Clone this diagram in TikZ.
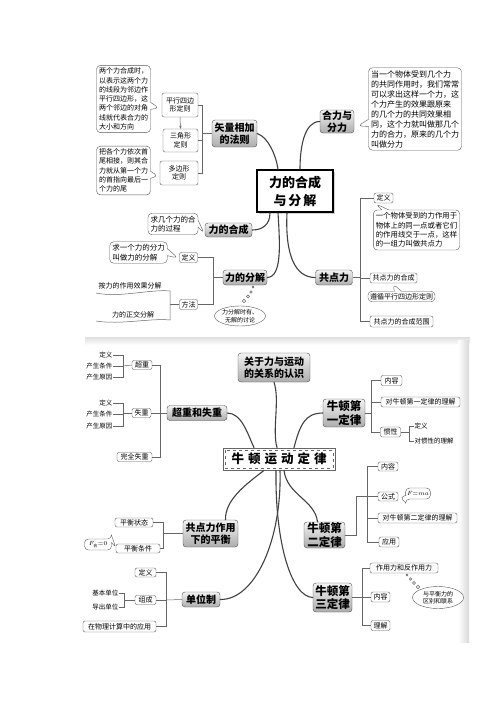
\documentclass[tikz,border=0pt]{standalone}
\usepackage{fontspec}
\setmainfont{Noto Sans CJK SC}
\usetikzlibrary{shapes.callouts,shapes.geometric,shadows,arrows.meta}
\begin{document}
\begin{tikzpicture}[x=1pt,y=-1pt,
  conn/.style={line width=1.1pt, draw=black!75, line cap=round},
  brk/.style={line width=0.5pt, draw=black!60},
  mainbox/.style={draw=black!70, rounded corners=3pt, top color=gray!10, bottom color=gray!65, inner sep=0pt, align=center, font=\fontsize{10}{11.5}\selectfont\bfseries},
  lawbox/.style={mainbox, font=\fontsize{11.5}{13.5}\selectfont\bfseries},
  leaf/.style={draw=black!65, rounded corners=2pt, fill=white, inner sep=0pt, align=center, font=\fontsize{7}{8.5}\selectfont},
  note/.style={rectangle callout, draw=black!65, rounded corners=4pt, fill=white, inner sep=2.5pt, align=left},
  lbl/.style={inner sep=0.5pt, font=\fontsize{6.5}{7.5}\selectfont},
  bubble/.style={ellipse, draw=black!65, fill=white, inner sep=0pt, align=center, font=\fontsize{6}{7.5}\selectfont},
  dot/.style={circle, draw=black!60, fill=white, inner sep=0pt}
]
\useasboundingbox (0,0) rectangle (500,707);
% scan shading
\shade[top color=gray!25, bottom color=white, draw=none] (85,337) rectangle (470,345);
\shade[left color=white, right color=gray!30, draw=none] (458,340) rectangle (469,642);

% ===================== top part =====================
\node[draw=black, line width=1.6pt, fill=white, drop shadow={shadow xshift=2pt,shadow yshift=-2pt,fill=gray!70}, minimum width=76pt, minimum height=42pt, align=center, inner sep=0pt, font=\fontsize{13}{18}\selectfont\bfseries] (C1) at (295,191) {力的合成\\与\hspace{2pt}分\hspace{2pt}解};

\node[mainbox, minimum width=45pt, minimum height=27pt] (V) at (234.5,133.5) {矢量相加\\的法则};
\node[leaf, minimum width=36pt, minimum height=24pt] (P1) at (180,105) {平行四边\\形定则};
\node[leaf, minimum width=35pt, minimum height=23pt] (P2) at (180.5,140.5) {三角形\\定则};
\node[leaf, minimum width=38pt, minimum height=24pt] (P3) at (179,173) {多边形\\定则};
\node[note, font=\fontsize{7}{9.3}\selectfont, callout absolute pointer={(159,108)}] (CL1) at (123.5,99) {两个力合成时，\\以表示这两个力\\的线段为邻边作\\平行四边形，这\\两个邻边的对角\\线就代表合力的\\大小和方向};
\node[note, font=\fontsize{7}{9.3}\selectfont, callout absolute pointer={(158,176)}] (CL2) at (123.5,170.5) {把各个力依次首\\尾相接，则其合\\力就从第一个力\\的首指向最后一\\个力的尾};
\draw[brk, -{Stealth[length=3pt]}] (P1.south) -- (P2.north);
\coordinate (vb) at (202,133.5);
\draw[brk] (V.west) -- (vb);
\draw[brk] (P1.east) -| (vb);
\draw[brk] (P2.east) -| (vb);
\draw[brk] (P3.east) -| (vb);

\node[mainbox, minimum width=34pt, minimum height=23pt] (HF) at (337,121.5) {合力与\\分力};
\node[note, font=\fontsize{8}{10}\selectfont, callout absolute pointer={(358,126)}] (CR1) at (415,109) {当一个物体受到几个力\\的共同作用时，我们常常\\可以求出这样一个力，这\\个力产生的效果跟原来\\的几个力的共同效果相\\同，这个力就叫做那几个\\力的合力，原来的几个力\\叫做分力};

\node[mainbox, minimum width=47pt, minimum height=14pt] (HC) at (228.5,230) {力的合成};
\node[note, font=\fontsize{7.5}{9.5}\selectfont, callout absolute pointer={(204,233)}] (CL3) at (173,224) {求几个力的合\\力的过程};

\node[mainbox, minimum width=44pt, minimum height=15pt] (FJ) at (245,277.5) {力的分解};
\node[leaf, minimum width=18pt, minimum height=10pt] (DY1) at (188.5,257.5) {定义};
\node[note, font=\fontsize{7.5}{9.5}\selectfont, callout absolute pointer={(178,258)}] (CL4) at (138.5,252.5) {求一个力的分力\\叫做力的分解};
\node[leaf, minimum width=18pt, minimum height=10pt] (FF) at (188.5,304.5) {方法};
\node[lbl, font=\fontsize{7}{8}\selectfont] (T1) at (130,286) {按力的作用效果分解};
\node[lbl, font=\fontsize{7}{8}\selectfont] (T2) at (133,315) {力的正交分解};
\draw[brk] (96,293) .. controls (120,298) and (150,289) .. (170,291) -- (170,320) .. controls (150,318) and (120,325) .. (96,321);
\coordinate (sc) at (170,304.5);
\draw[brk] (FF.west) -- (sc);
\coordinate (fb) at (213,277.5);
\draw[brk] (FJ.west) -- (fb);
\draw[brk] (DY1.east) -| (fb);
\draw[brk] (FF.east) -| (fb);
\node[bubble, minimum width=51pt, minimum height=20pt] (EL1) at (240,316) {力分解时有、\\无解的讨论};
\node[dot, minimum size=2pt] (b1) at (253,287) {};
\node[dot, minimum size=2.5pt] (b2) at (251,292) {};
\node[dot, minimum size=3pt] (b3) at (248,296.5) {};
\node[dot, minimum size=3.5pt] (b4) at (244,301) {};

\node[mainbox, minimum width=37pt, minimum height=15pt] (GD) at (334,277.5) {共点力};
\node[leaf, minimum width=19pt, minimum height=10pt] (DY2) at (383.5,198) {定义};
\node[note, font=\fontsize{7.4}{9.4}\selectfont, callout absolute pointer={(376,204)}] (CR2) at (416.5,230) {一个物体受到的力作用于\\物体上的同一点或者它们\\的作用线交于一点，这样\\的一组力叫做共点力};
\node[leaf, minimum width=47pt, minimum height=10pt] (GH) at (393.5,278) {共点力的合成};
\node[note, font=\fontsize{7}{9}\selectfont, inner sep=2pt, callout absolute pointer={(393,284)}] (CR3) at (401.5,296.5) {遵循平行四边形定则};
\node[leaf, minimum width=63pt, minimum height=11pt] (GF) at (401.5,321.5) {共点力的合成范围};
\coordinate (gb) at (360,277.5);
\draw[brk] (GD.east) -- (gb);
\draw[brk] (DY2.west) -| (gb);
\draw[brk] (GH.west) -| (gb);
\draw[brk] (GF.west) -| (gb);

\draw[conn] (V.east) .. controls (268,137) and (276,155) .. ([xshift=-17pt]C1.north);
\draw[conn] ([xshift=5pt]C1.north) .. controls (300,145) and (305,121.5) .. (HF.west);
\draw[conn] (HC.east) .. controls (262,230) and (270,225) .. ([xshift=-25pt]C1.south);
\draw[conn] ([xshift=-17pt]C1.south) .. controls (280,245) and (282,277) .. (FJ.east);
\draw[conn] ([xshift=-8pt]C1.south) .. controls (285,255) and (295,277.5) .. (GD.west);

% ===================== bottom part =====================
\node[draw=black!60, line width=0.8pt, fill=white, minimum width=112pt, minimum height=22pt, inner sep=0pt, font=\fontsize{12.5}{14}\selectfont\bfseries] (C2) at (279,459) {牛\hspace{4pt}顿\hspace{4pt}运\hspace{4pt}动\hspace{4pt}定\hspace{4pt}律};
\draw[dashed, black!60, line width=0.5pt] ([shift={(2.5pt,-2.5pt)}]C2.north west) rectangle ([shift={(-2.5pt,2.5pt)}]C2.south east);

\node[mainbox, minimum width=72pt, minimum height=29pt] (GY) at (274,367.5) {关于力与运动\\的关系的认识};
\node[mainbox, minimum width=60pt, minimum height=15pt] (CS) at (197,413) {超重和失重};

\node[lawbox, minimum width=42pt, minimum height=28pt] (N1) at (344,413) {牛顿第\\一定律};
\node[leaf, minimum width=21pt, minimum height=10pt] (NR1) at (391.5,380.5) {内容};
\node[leaf, minimum width=79pt, minimum height=10pt] (NL1) at (420.5,402) {对牛顿第一定律的理解};
\node[leaf, minimum width=20pt, minimum height=10pt] (GX) at (390.5,432) {惯性};
\node[lbl, anchor=west] (GX1) at (414,426) {定义};
\node[lbl, anchor=west] (GX2) at (414,441) {对惯性的理解};
\coordinate (gxb) at (409,432);
\draw[brk] (GX.east) -- (gxb);
\draw[brk] (GX1.west) -| (gxb);
\draw[brk] (GX2.west) -| (gxb);
\coordinate (n1b) at (371,413);
\draw[brk] (N1.east) -- (n1b);
\draw[brk] (NR1.west) -| (n1b);
\draw[brk] (NL1.west) -| (n1b);
\draw[brk] (GX.west) -| (n1b);

\node[leaf, minimum width=20pt, minimum height=9pt] (CZ) at (142,365) {超重};
\node[leaf, minimum width=19pt, minimum height=9pt] (SZ) at (141.5,413) {失重};
\node[leaf, minimum width=35pt, minimum height=9pt] (WQ) at (134.5,457) {完全失重};
\node[lbl, anchor=east] (CZ1) at (113,355) {定义};
\node[lbl, anchor=east] (CZ2) at (113,366) {产生条件};
\node[lbl, anchor=east] (CZ3) at (113,377) {产生原因};
\coordinate (czb) at (123,366);
\draw[brk] (CZ.west) -- (czb);
\draw[brk] (CZ1.east) -| (czb);
\draw[brk] (CZ2.east) -- (czb);
\draw[brk] (CZ3.east) -| (czb);
\node[lbl, anchor=east] (SZ1) at (113,403) {定义};
\node[lbl, anchor=east] (SZ2) at (113,414) {产生条件};
\node[lbl, anchor=east] (SZ3) at (113,426) {产生原因};
\coordinate (szb) at (123,413);
\draw[brk] (SZ.west) -- (szb);
\draw[brk] (SZ1.east) -| (szb);
\draw[brk] (SZ2.east) -| (szb);
\draw[brk] (SZ3.east) -| (szb);
\coordinate (csb) at (160,413);
\draw[brk] (CS.west) -- (csb);
\draw[brk] (CZ.east) -| (csb);
\draw[brk] (SZ.east) -| (csb);
\draw[brk] (WQ.east) -| (csb);

\node[lawbox, minimum width=41pt, minimum height=26pt] (N2) at (324.5,535) {牛顿第\\二定律};
\node[leaf, minimum width=20pt, minimum height=9pt] (NR2) at (388,466.5) {内容};
\node[leaf, minimum width=20pt, minimum height=9pt] (GS) at (388,496.5) {公式};
\node[note, font=\fontsize{6.5}{7.5}\selectfont, inner sep=1.5pt, minimum width=20pt, minimum height=11pt, callout absolute pointer={(400,497)}] (FMA) at (418,493.5) {$F{=}ma$};
\node[leaf, minimum width=79pt, minimum height=10pt] (NL2) at (417.5,518) {对牛顿第二定律的理解};
\node[leaf, minimum width=20pt, minimum height=10pt] (YY) at (389,542) {应用};
\coordinate (n2a) at (356,535);
\coordinate (n2b) at (367,496.5);
\draw[brk] (N2.east) -- (n2a) |- (n2b);
\draw[brk] (NR2.west) -| (n2b);
\draw[brk] (GS.west) -- (n2b);
\draw[brk] (NL2.west) -| (n2b);
\draw[brk] (YY.west) -| (n2b);

\node[lawbox, minimum width=39pt, minimum height=29pt] (N3) at (332.5,597.5) {牛顿第\\三定律};
\node[leaf, minimum width=68pt, minimum height=10pt] (ZY) at (404,568) {作用力和反作用力};
\node[leaf, minimum width=19pt, minimum height=10pt] (NR3) at (380.5,597) {内容};
\node[leaf, minimum width=19pt, minimum height=10pt] (LJ) at (380.5,625.5) {理解};
\coordinate (n3b) at (362,597.5);
\draw[brk] (N3.east) -- (n3b);
\draw[brk] (ZY.west) -| (n3b);
\draw[brk] (NR3.west) -| (n3b);
\draw[brk] (LJ.west) -| (n3b);
\node[bubble, minimum width=51pt, minimum height=22pt] (EL2) at (438,597.5) {与平衡力的\\区别和联系};
\node[dot, minimum size=2pt] (d1) at (407,575) {};
\node[dot, minimum size=2.5pt] (d2) at (410.5,579) {};
\node[dot, minimum size=3pt] (d3) at (414,583) {};
\node[dot, minimum size=3.5pt] (d4) at (418,587) {};

\node[mainbox, minimum width=55pt, minimum height=27pt] (GP) at (210.5,533.5) {共点力作用\\下的平衡};
\node[leaf, minimum width=38pt, minimum height=9pt] (PZ) at (134,522.5) {平衡状态};
\node[leaf, minimum width=44pt, minimum height=9pt] (PT) at (138,548.5) {平衡条件};
\node[note, font=\fontsize{6.5}{7.5}\selectfont, inner sep=1.5pt, minimum width=27pt, minimum height=11pt, callout absolute pointer={(116,548)}] (FH) at (98,544.5) {$F_{\mbox{\fontsize{4}{4}\selectfont 合}}{=}0$};
\coordinate (gpb) at (163,533.5);
\draw[brk] (GP.west) -- (gpb);
\draw[brk] (PZ.east) -| (gpb);
\draw[brk] (PT.east) -| (gpb);

\node[mainbox, minimum width=38pt, minimum height=15pt] (DW) at (201,599.5) {单位制};
\node[leaf, minimum width=21pt, minimum height=9pt] (DY3) at (145.5,572.5) {定义};
\node[leaf, minimum width=21pt, minimum height=9pt] (ZC) at (145.5,600) {组成};
\node[leaf, minimum width=73pt, minimum height=11pt] (YYW) at (119.5,626.5) {在物理计算中的应用};
\coordinate (dwb) at (166,600);
\draw[brk] (DW.west) -- (dwb);
\draw[brk] (DY3.east) -| (dwb);
\draw[brk] (ZC.east) -- (dwb);
\draw[brk] (YYW.east) -| (dwb);
\node[lbl, anchor=east] (ZC1) at (119,593) {基本单位};
\node[lbl, anchor=east] (ZC2) at (119,607) {导出单位};
\coordinate (zcb) at (124,600);
\draw[brk] (ZC.west) -- (zcb);
\draw[brk] (ZC1.east) -| (zcb);
\draw[brk] (ZC2.east) -| (zcb);

\draw[conn] ([xshift=-2pt]C2.north) .. controls (272,430) and (280,400) .. (GY.south);
\draw[conn] (CS.east) .. controls (242,413) and (248,435) .. ([xshift=-25pt]C2.north);
\draw[conn] ([xshift=15pt]C2.north) .. controls (300,425) and (305,413) .. (N1.west);
\draw[conn] ([xshift=5pt]C2.south) .. controls (287,495) and (315,500) .. ([xshift=-7pt]N2.north);
\draw[conn] ([xshift=-3pt]C2.south) .. controls (275,545) and (292,597) .. (N3.west);
\draw[conn] ([xshift=-15pt]C2.south) .. controls (245,485) and (225,500) .. ([xshift=15pt]GP.north);
\draw[conn] (DW.east) .. controls (255,600) and (282,540) .. ([xshift=1pt]C2.south);
\end{tikzpicture}
\end{document}
